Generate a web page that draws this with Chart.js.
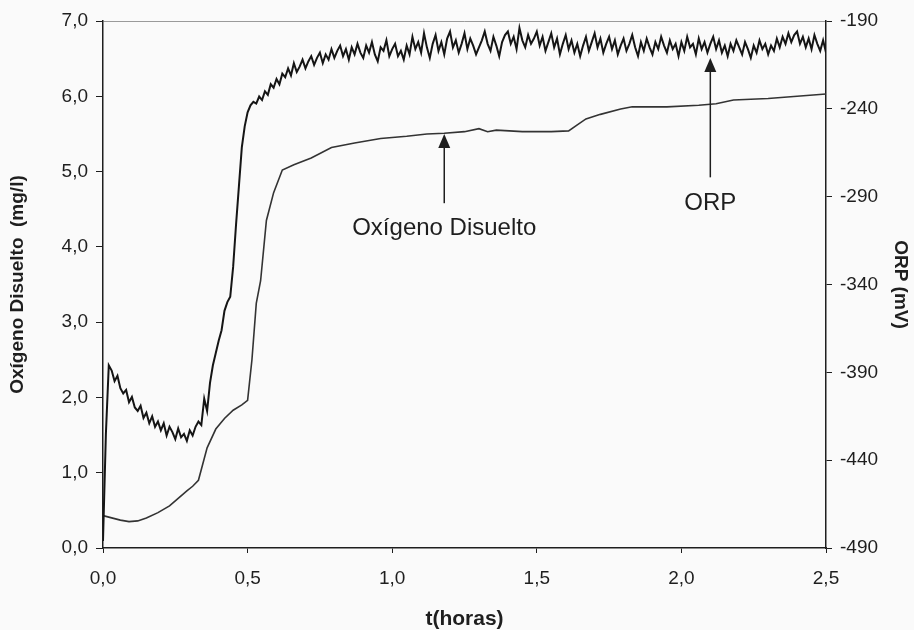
<!DOCTYPE html>
<html>
<head>
<meta charset="utf-8">
<script src="https://cdn.jsdelivr.net/npm/chart.js@4/dist/chart.umd.min.js"></script>
<style>
html, body { margin: 0; padding: 0; background: #fafafa; }
#wrap { width: 914px; height: 630px; }
</style>
</head>
<body>
<div id="wrap"><canvas id="chart"></canvas></div>
<script>
// ORP (mV), right axis
const orpTime = [
  0.00,0.01,0.02,0.03,0.04,0.05,0.06,0.07,0.08,0.09,
  0.10,0.11,0.12,0.13,0.14,0.15,0.16,0.17,0.18,0.19,
  0.20,0.21,0.22,0.23,0.24,0.25,0.26,0.27,0.28,0.29,
  0.30,0.31,0.32,0.33,0.34,0.35,0.36,0.37,0.38,0.39,
  0.40,0.41,0.42,0.43,0.44,0.45,0.46,0.47,0.48,0.49,
  0.50,0.51,0.52,0.53,0.54,0.55,0.56,0.57,0.58,0.59,
  0.60,0.61,0.62,0.63,0.64,0.65,0.66,0.67,0.68,0.69,
  0.70,0.71,0.72,0.73,0.74,0.75,0.76,0.77,0.78,0.79,
  0.80,0.81,0.82,0.83,0.84,0.85,0.86,0.87,0.88,0.89,
  0.90,0.91,0.92,0.93,0.94,0.95,0.96,0.97,0.98,0.99,
  1.00,1.01,1.02,1.03,1.04,1.05,1.06,1.07,1.08,1.09,
  1.10,1.11,1.12,1.13,1.14,1.15,1.16,1.17,1.18,1.19,
  1.20,1.21,1.22,1.23,1.24,1.25,1.26,1.27,1.28,1.29,
  1.30,1.31,1.32,1.33,1.34,1.35,1.36,1.37,1.38,1.39,
  1.40,1.41,1.42,1.43,1.44,1.45,1.46,1.47,1.48,1.49,
  1.50,1.51,1.52,1.53,1.54,1.55,1.56,1.57,1.58,1.59,
  1.60,1.61,1.62,1.63,1.64,1.65,1.66,1.67,1.68,1.69,
  1.70,1.71,1.72,1.73,1.74,1.75,1.76,1.77,1.78,1.79,
  1.80,1.81,1.82,1.83,1.84,1.85,1.86,1.87,1.88,1.89,
  1.90,1.91,1.92,1.93,1.94,1.95,1.96,1.97,1.98,1.99,
  2.00,2.01,2.02,2.03,2.04,2.05,2.06,2.07,2.08,2.09,
  2.10,2.11,2.12,2.13,2.14,2.15,2.16,2.17,2.18,2.19,
  2.20,2.21,2.22,2.23,2.24,2.25,2.26,2.27,2.28,2.29,
  2.30,2.31,2.32,2.33,2.34,2.35,2.36,2.37,2.38,2.39,
  2.40,2.41,2.42,2.43,2.44,2.45,2.46,2.47,2.48,2.49,
  2.50
];
const orpValues = [
  -486,-425,-386,-389,-395,-392,-399,-402,-400,-407,
  -404,-410,-412,-409,-416,-413,-419,-415,-421,-418,
  -423,-419,-426,-421,-424,-428,-422,-427,-425,-429,
  -423,-426,-421,-418,-420,-405,-412,-396,-386,-379,
  -372,-366,-355,-350,-347,-330,-306,-284,-262,-250,
  -242,-238,-236,-237,-233,-235,-230,-232,-226,-228,
  -223,-226,-220,-222,-217,-221,-214,-219,-216,-212,
  -217,-213,-210,-215,-211,-208,-214,-209,-212,-206,
  -211,-207,-204,-210,-206,-212,-205,-209,-203,-208,
  -211,-204,-208,-202,-209,-213,-205,-207,-201,-210,
  -206,-203,-210,-207,-212,-204,-209,-199,-206,-202,
  -208,-197,-205,-211,-203,-198,-207,-202,-209,-200,
  -196,-205,-201,-208,-203,-197,-206,-200,-204,-209,
  -205,-201,-196,-203,-207,-199,-204,-210,-202,-198,
  -196,-203,-199,-206,-194,-201,-205,-198,-203,-200,
  -196,-204,-199,-207,-202,-197,-205,-200,-209,-203,
  -198,-206,-201,-208,-203,-210,-204,-199,-207,-202,
  -197,-205,-200,-208,-203,-199,-206,-201,-209,-204,
  -200,-207,-203,-198,-205,-210,-202,-207,-200,-205,
  -209,-202,-206,-199,-204,-208,-201,-206,-203,-210,
  -202,-207,-199,-205,-203,-209,-200,-206,-202,-208,
  -203,-199,-206,-201,-208,-204,-210,-203,-207,-201,
  -205,-209,-202,-206,-211,-204,-208,-201,-206,-203,
  -209,-204,-207,-200,-205,-199,-203,-197,-202,-198,
  -196,-203,-199,-205,-200,-206,-198,-203,-207,-201,
  -208
];

// Oxigeno disuelto (mg/l), left axis
const doTime = [
  0, 0.03, 0.06, 0.09, 0.12, 0.15, 0.19, 0.23, 0.26, 0.29,
  0.31, 0.33, 0.36, 0.39, 0.42, 0.45, 0.48, 0.50, 0.515, 0.53,
  0.545, 0.565, 0.59, 0.62, 0.66, 0.72, 0.79, 0.87, 0.96, 1.05,
  1.12, 1.18, 1.25, 1.30, 1.33, 1.36, 1.45, 1.55, 1.61, 1.64,
  1.67, 1.72, 1.79, 1.83, 1.95, 2.06, 2.12, 2.18, 2.30, 2.40, 2.50
];
const doValues = [
  0.43, 0.40, 0.37, 0.35, 0.36, 0.40, 0.47, 0.56, 0.66, 0.76,
  0.82, 0.90, 1.33, 1.58, 1.72, 1.83, 1.90, 1.96, 2.50, 3.25,
  3.55, 4.35, 4.72, 5.02, 5.09, 5.18, 5.32, 5.38, 5.44, 5.47,
  5.50, 5.51, 5.53, 5.57, 5.53, 5.55, 5.53, 5.53, 5.54, 5.62,
  5.70, 5.76, 5.83, 5.86, 5.86, 5.88, 5.90, 5.95, 5.97, 6.00, 6.03
];

// arrow labels
const notes = [
  { text: 'Oxígeno Disuelto', axis: 'y', t: 1.18, tip: 5.50, tail: 4.58, label: 4.24 },
  { text: 'ORP', axis: 'y2', t: 2.10, tip: -211, tail: -279, label: -294 }
];

const font = '"Liberation Sans", Arial, sans-serif';
const ink = '#1e1e1e';

const arrowNotes = {
  id: 'arrowNotes',
  afterDatasetsDraw(chart) {
    const ctx = chart.ctx;
    const xs = chart.scales.x;
    notes.forEach(n => {
      const ys = chart.scales[n.axis];
      const px = xs.getPixelForValue(n.t);
      const tip = ys.getPixelForValue(n.tip);
      const tail = ys.getPixelForValue(n.tail);
      const lab = ys.getPixelForValue(n.label);
      ctx.save();
      ctx.strokeStyle = ink;
      ctx.fillStyle = ink;
      ctx.lineWidth = 1.5;
      ctx.beginPath();
      ctx.moveTo(px, tail);
      ctx.lineTo(px, tip + 10);
      ctx.stroke();
      ctx.beginPath();
      ctx.moveTo(px, tip);
      ctx.lineTo(px - 6, tip + 14);
      ctx.lineTo(px + 6, tip + 14);
      ctx.closePath();
      ctx.fill();
      ctx.font = '24px ' + font;
      ctx.textAlign = 'center';
      ctx.textBaseline = 'middle';
      ctx.fillText(n.text, px, lab);
      ctx.restore();
    });
  }
};

const comma = (v, d) => Number(v).toFixed(d).replace('.', ',');

new Chart(document.getElementById('chart'), {
  type: 'line',
  data: {
    datasets: [
      {
        label: 'ORP',
        data: orpTime.map((t, i) => ({ x: t, y: orpValues[i] })),
        yAxisID: 'y2',
        borderColor: '#151515',
        borderWidth: 2,
        pointRadius: 0,
        tension: 0
      },
      {
        label: 'Oxígeno Disuelto',
        data: doTime.map((t, i) => ({ x: t, y: doValues[i] })),
        yAxisID: 'y',
        borderColor: '#333',
        borderWidth: 1.6,
        pointRadius: 0,
        tension: 0
      }
    ]
  },
  options: {
    responsive: true,
    maintainAspectRatio: false,
    animation: false,
    layout: { padding: { top: 21, left: 0, right: 0, bottom: 0 } },
    plugins: {
      legend: { display: false },
      tooltip: { enabled: false }
    },
    scales: {
      x: {
        type: 'linear',
        min: 0,
        max: 2.5,
        afterFit: s => { s.height = 82; },
        ticks: {
          stepSize: 0.5,
          color: ink,
          padding: 14,
          font: { family: font, size: 19 },
          callback: v => comma(v, 1)
        },
        grid: { drawOnChartArea: false, tickLength: 5, tickColor: ink },
        border: { color: ink, width: 1.5 },
        title: {
          display: true,
          text: 't(horas)',
          color: ink,
          padding: 0,
          font: { family: font, size: 21, weight: 'bold', lineHeight: 1 }
        }
      },
      y: {
        position: 'left',
        min: 0,
        max: 7,
        afterFit: s => { s.width = 103; },
        ticks: {
          stepSize: 1,
          color: ink,
          padding: 8,
          font: { family: font, size: 19 },
          callback: v => comma(v, 1)
        },
        grid: {
          color: c => (c.tick && c.tick.value === 7 ? '#9a9a9a' : 'rgba(0,0,0,0)'),
          tickColor: ink,
          tickLength: 7
        },
        border: { color: ink, width: 1.5 },
        title: {
          display: true,
          text: 'Oxígeno Disuelto  (mg/l)',
          color: ink,
          padding: { top: 8 },
          font: { family: font, size: 19, weight: 'bold', lineHeight: 1 }
        }
      },
      y2: {
        position: 'right',
        min: -490,
        max: -190,
        afterFit: s => { s.width = 88; },
        ticks: {
          stepSize: 50,
          color: ink,
          padding: 8,
          font: { family: font, size: 19 }
        },
        grid: { drawOnChartArea: false, tickColor: ink, tickLength: 6 },
        border: { color: ink, width: 1.5 },
        title: {
          display: true,
          text: 'ORP (mV)',
          color: ink,
          padding: { top: 4 },
          font: { family: font, size: 19, weight: 'bold', lineHeight: 1 }
        }
      }
    }
  },
  plugins: [arrowNotes]
});
</script>
</body>
</html>
